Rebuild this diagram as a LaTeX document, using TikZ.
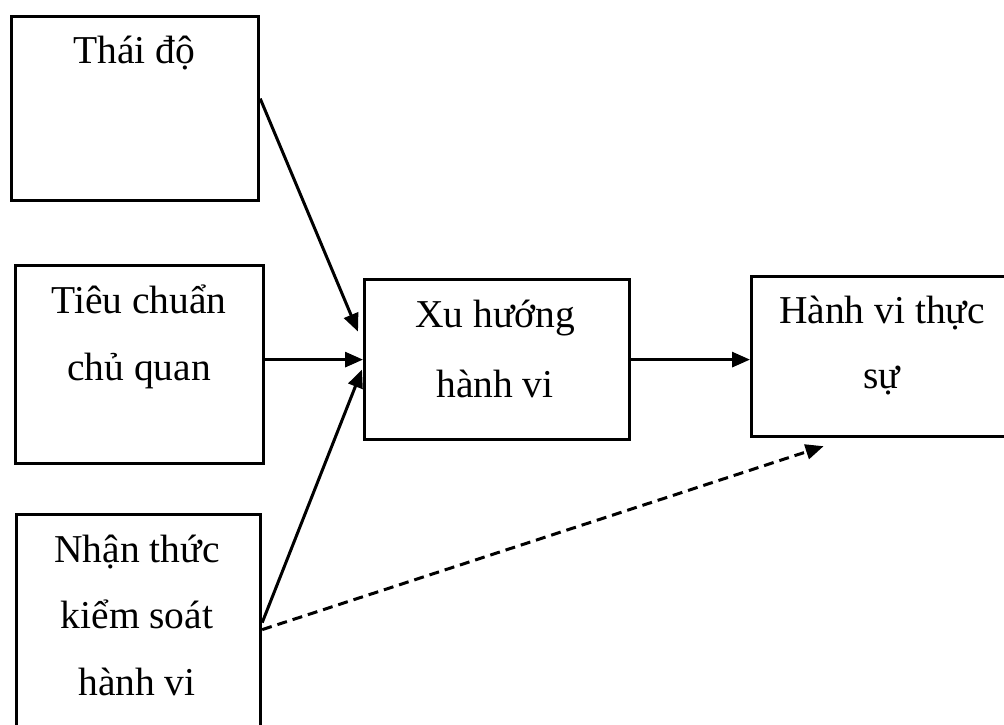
\documentclass[tikz,border=0pt]{standalone}
\usepackage{fontspec}
\setmainfont{Liberation Serif}
\usetikzlibrary{arrows.meta}
\begin{document}
\begin{tikzpicture}[x=1pt,y=-1pt,
  box/.style={draw=black,line width=3.2pt,rectangle,anchor=north west,inner sep=0pt},
  lbl/.style={anchor=base,inner sep=0pt,font=\fontsize{39.5}{45}\selectfont},
  conn/.style={line width=3pt,-{Triangle[length=18pt,width=15pt]}},
  dconn/.style={conn,dash pattern=on 10pt off 6pt}]
\useasboundingbox (0,0) rectangle (1004,724);
\clip (0,0) rectangle (1004,724);
\fill[white] (0,0) rectangle (1004,724);
% boxes
\node[box,minimum width=247pt,minimum height=184pt] (A) at (10,15) {};
\node[box,minimum width=248pt,minimum height=198pt] (T) at (14,264) {};
\node[box,minimum width=244pt,minimum height=216pt] (N) at (15,513) {};
\node[box,minimum width=265pt,minimum height=160pt] (X) at (363,278) {};
\node[box,minimum width=260pt,minimum height=160pt] (H) at (750,275) {};
% labels
\node[lbl] (a1) at (134,63) {Thái độ};
\node[lbl] (t1) at (139,313) {Tiêu chuẩn};
\node[lbl] (t2) at (139,380) {chủ quan};
\node[lbl] (n1) at (137,562) {Nhận thức};
\node[lbl] (n2) at (137,628) {kiểm soát};
\node[lbl] (n3) at (137,695) {hành vi};
\node[lbl] (x1) at (495,327) {Xu hướng};
\node[lbl] (x2) at (495,397) {hành vi};
\node[lbl] (h1) at (882,323) {Hành vi thực};
\node[lbl] (h2) at (882,388) {sự};
% connectors
\draw[conn] ([yshift=10pt]A.east) -- ([xshift=-5pt,yshift=28pt]X.west);
\draw[conn] (T.east |- X.west) -- (X.west);
\draw[conn] (N.east) -- ([xshift=-1pt,yshift=-10pt]X.west);
\draw[conn] (X.east) -- (X.east -| H.west);
\draw[dconn] ([yshift=-7pt]N.east) -- ([xshift=-58pt,yshift=-8pt]H.south);
\end{tikzpicture}
\end{document}
